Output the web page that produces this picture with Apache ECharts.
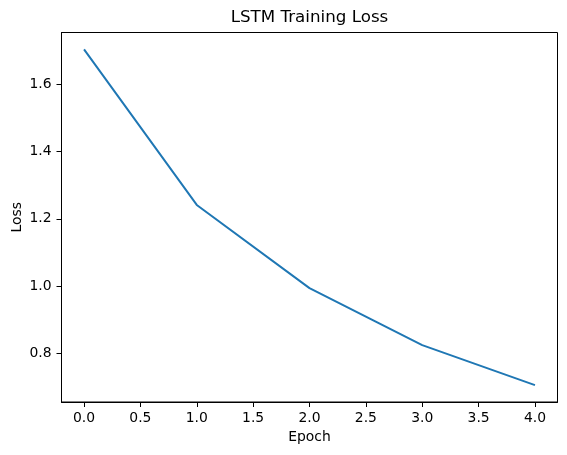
<!DOCTYPE html>
<html lang="en">
<head>
    <meta charset="UTF-8">
    <title>LSTM Training Loss</title>
    <script src="https://cdn.jsdelivr.net/npm/echarts@6/dist/echarts.min.js"></script>
    <style type="text/css">
        html, body {
            margin: 0;
            padding: 0;
            background: #fff;
        }
        #main {
            width: 567px;
            height: 455px;
        }
    </style>
</head>
<body>
<div id="main"></div>
<script>
    // loss per epoch
    var epochs = [0, 1, 2, 3, 4];
    var loss = [1.703, 1.241, 0.994, 0.825, 0.706];
    var xTicks = [0, 0.5, 1, 1.5, 2, 2.5, 3, 3.5, 4];
    var yTicks = [0.8, 1.0, 1.2, 1.4, 1.6];

    var font = 'DejaVu Sans';
    var myChart = echarts.init(document.getElementById('main'));

    var option = {
        animation: false,
        backgroundColor: '#fff',
        title: {
            text: 'LSTM Training Loss',
            left: 309.5,
            top: 9,
            padding: 0,
            textAlign: 'center',
            textStyle: {
                fontFamily: font,
                fontSize: 16.7,
                fontWeight: 'normal',
                color: '#000'
            }
        },
        grid: {
            left: 61.5,
            right: 9.5,
            top: 32.5,
            bottom: 53,
            outerBoundsMode: 'none',
            show: true,
            borderColor: '#000',
            borderWidth: 1
        },
        xAxis: {
            type: 'value',
            min: -0.2,
            max: 4.2,
            name: 'Epoch',
            nameLocation: 'middle',
            nameGap: 28,
            nameMoveOverlap: false,
            nameTextStyle: { fontFamily: font, fontSize: 13.9, color: '#000' },
            axisLine: { show: true, onZero: false, lineStyle: { color: '#000', width: 1 } },
            axisTick: {
                show: true,
                length: 5,
                customValues: xTicks,
                lineStyle: { color: '#000' }
            },
            axisLabel: {
                customValues: xTicks,
                margin: 9,
                fontFamily: font,
                fontSize: 13.9,
                color: '#000',
                formatter: function (v) { return v.toFixed(1); }
            },
            splitLine: { show: false }
        },
        yAxis: {
            type: 'value',
            min: 0.656,
            max: 1.753,
            name: 'Loss',
            nameLocation: 'middle',
            nameGap: 37,
            nameRotate: 90,
            nameMoveOverlap: false,
            nameTextStyle: { fontFamily: font, fontSize: 13.9, color: '#000' },
            axisLine: { show: true, onZero: false, lineStyle: { color: '#000', width: 1 } },
            axisTick: {
                show: true,
                length: 5,
                customValues: yTicks,
                lineStyle: { color: '#000' }
            },
            axisLabel: {
                customValues: yTicks,
                margin: 10,
                fontFamily: font,
                fontSize: 13.9,
                color: '#000',
                formatter: function (v) { return v.toFixed(1); }
            },
            splitLine: { show: false }
        },
        series: [
            {
                type: 'line',
                data: epochs.map(function (e, i) { return [e, loss[i]]; }),
                showSymbol: false,
                symbol: 'none',
                lineStyle: { color: '#1f77b4', width: 2 }
            }
        ]
    };
    myChart.setOption(option);
</script>
</body>
</html>
